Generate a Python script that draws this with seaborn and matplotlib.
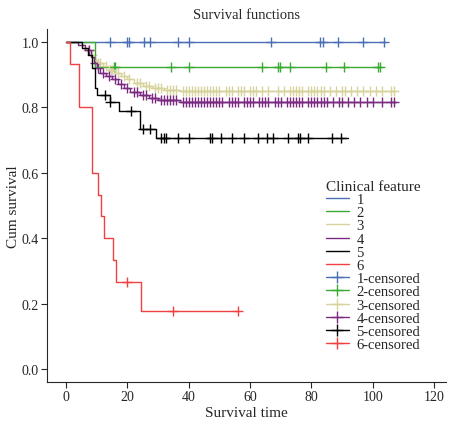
import numpy as np
import pandas as pd
import matplotlib
matplotlib.use("Agg")
import matplotlib.pyplot as plt
import seaborn as sns
from matplotlib.lines import Line2D

# step curves: (time, survival) pairs, step after each time
g1_t = [0, 104];             g1_s = [1.0, 1.0]
g2_t = [0, 9.3, 102.5];      g2_s = [1.0, 0.923, 0.923]
g3_t = [0, 4, 6, 8, 9, 10, 12, 14, 16, 18, 20, 22, 25, 28, 32, 37, 107.6]
g3_s = [1.0, 0.99, 0.975, 0.96, 0.945, 0.935, 0.925, 0.915, 0.905, 0.895, 0.885, 0.875, 0.865, 0.858, 0.853, 0.85, 0.85]
g4_t = [0, 4, 6, 8, 9, 10, 11, 13, 15, 17, 19, 21, 24, 27, 30, 37, 107.6]
g4_s = [1.0, 0.99, 0.975, 0.955, 0.935, 0.92, 0.905, 0.895, 0.885, 0.87, 0.86, 0.848, 0.838, 0.828, 0.822, 0.815, 0.815]
g5_t = [0, 5.2, 7, 8.5, 9.3, 10, 14.3, 17.2, 24.2, 29.4, 92]
g5_s = [1.0, 0.98, 0.96, 0.92, 0.86, 0.837, 0.815, 0.788, 0.735, 0.705, 0.705]
g6_t = [0, 1.3, 4.2, 8.5, 10.3, 11.4, 12.4, 15.3, 16.3, 24.3, 56]
g6_s = [1.0, 0.933, 0.8, 0.6, 0.533, 0.467, 0.4, 0.333, 0.267, 0.178, 0.178]

# censored times
c1 = [14.3, 19.8, 20.5, 25.4, 27.3, 36.4, 40, 67, 82.9, 83.9, 88.8, 96.9, 103.7]
c2 = [15.5, 16, 34.3, 40.1, 64, 69.2, 69.8, 73.1, 84.9, 90.8, 101.9, 102.5]
c3 = [7, 8.5, 10.5, 11, 13, 14.5, 15, 17, 19, 20.5, 23, 24, 26, 27, 29, 30, 31, 33, 34, 35, 36,
      38, 39, 40, 41, 42, 43, 44, 45, 46, 47, 48, 49, 50, 52, 53, 54, 56, 57, 58, 60, 61, 62,
      64, 66, 69, 71, 73, 74, 75, 76, 77, 79, 80, 81, 82, 83, 84, 86, 88, 90, 91, 93, 95, 97,
      99, 101, 103, 106, 107]
c4 = [7.5, 9.5, 10.5, 12, 14, 16, 18, 20, 22, 23, 25, 26, 28, 29, 31, 32, 33, 34, 35, 36,
      38, 39, 40, 41, 42, 43, 44, 45, 46, 47, 48, 49, 50, 51, 53, 54, 55, 56, 58, 59, 60, 61,
      63, 64, 65, 66, 68, 69, 70, 72, 73, 74, 75, 76, 77, 79, 80, 81, 82, 83, 84, 85, 87, 89,
      90, 92, 94, 96, 98, 100, 103, 106, 107]
c5 = [12.7, 14.3, 21.2, 25, 27.5, 31, 31.8, 32.5, 36.4, 40, 47, 47.6, 50.5, 54, 58, 62.5,
      65.5, 67.5, 72.5, 75.5, 76.3, 79, 86.7, 89.6]
c6 = [20, 35, 56]

labels = ["1", "2", "3", "4", "5", "6"]
colors = ["#4a6fb5", "#3aaa35", "#d8d29c", "#7b2a82", "#000000", "#f04040"]

curves = [(g1_t, g1_s), (g2_t, g2_s), (g3_t, g3_s), (g4_t, g4_s), (g5_t, g5_s), (g6_t, g6_s)]
cens = [c1, c2, c3, c4, c5, c6]

sns.set_style("ticks")
plt.rcParams["font.family"] = ["Liberation Serif", "DejaVu Serif"]

fig = plt.figure(figsize=(4.53, 4.31), dpi=100)
ax = fig.add_axes([0.104, 0.111, 0.881, 0.82])

for (t, s), c, col, lab in zip(curves, cens, colors, labels):
    df = pd.DataFrame({"t": t, "s": s})
    sns.lineplot(data=df, x="t", y="s", drawstyle="steps-post", color=col, lw=1.0, ax=ax,
                 estimator=None, sort=False)
    # survival level at each censor time
    ys = [s[np.searchsorted(t, x, side="right") - 1] for x in c]
    cdf = pd.DataFrame({"t": c, "s": ys})
    sns.scatterplot(data=cdf, x="t", y="s", marker="+", s=45, color=col, linewidth=1.0, ax=ax)

ax.set_xlim(-6.2, 124)
ax.set_ylim(-0.04, 1.04)
ax.set_xticks([0, 20, 40, 60, 80, 100, 120])
ax.set_yticks([0, 0.2, 0.4, 0.6, 0.8, 1.0])
ax.set_yticklabels(["0.0", "0.2", "0.4", "0.6", "0.8", "1.0"])
ax.set_xlabel("Survival time", fontsize=11, labelpad=2)
ax.set_ylabel("Cum survival", fontsize=11, labelpad=1)
ax.set_title("Survival functions", fontsize=10.5, pad=8)
ax.tick_params(labelsize=10, length=4, pad=2)
sns.despine(ax=ax)

handles = [Line2D([], [], color=col, lw=1.0, drawstyle="steps-post") for col in colors]
handles += [Line2D([], [], color=col, lw=1.0, marker="+", markersize=8) for col in colors]
leg_labels = labels + [l + "-censored" for l in labels]
ax.legend(handles, leg_labels, title="Clinical feature", loc="center left",
          bbox_to_anchor=(0.68, 0.33), frameon=False, fontsize=10.5, title_fontsize=11,
          handlelength=1.6, labelspacing=0.0, borderpad=0, handletextpad=0.5,
          alignment="left")

fig.savefig("out.png", dpi=100)
